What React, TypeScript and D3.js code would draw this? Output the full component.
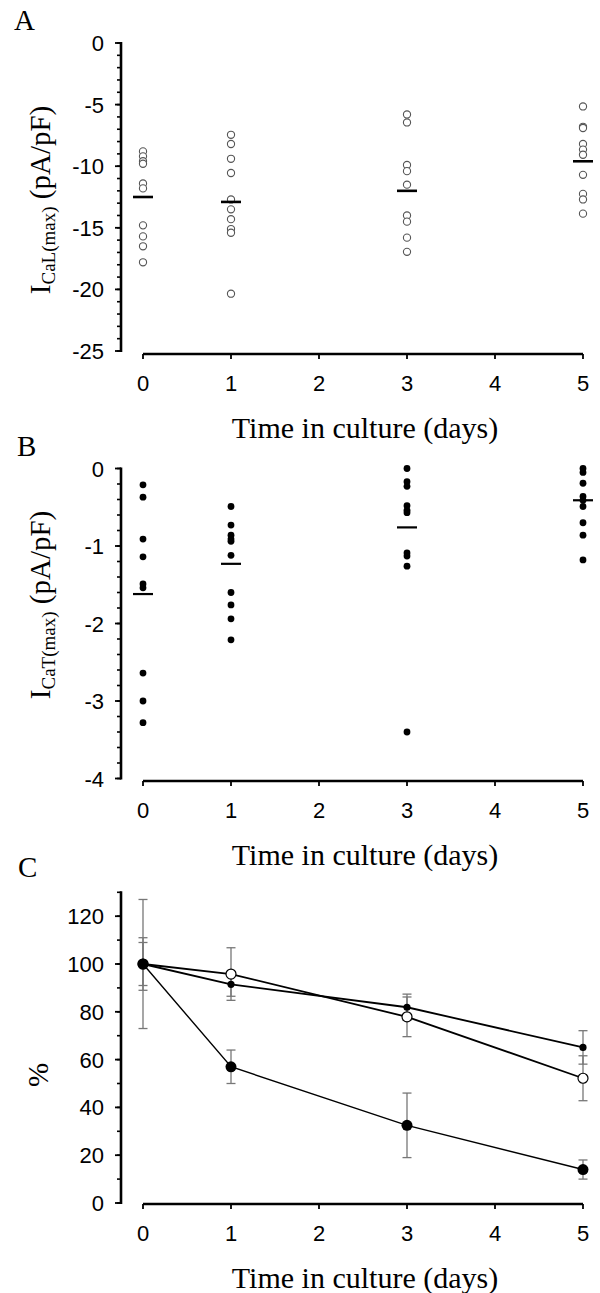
import React from 'react';
import * as d3 from 'd3';

// ---------- data ----------
const days = [0, 1, 3, 5];
const xTicks = [0, 1, 2, 3, 4, 5];

// Panel A: I_CaL(max) (pA/pF), individual cells per day
const icalDay0 = [-8.8, -9.2, -9.6, -9.8, -11.4, -11.8, -14.8, -15.7, -16.5, -17.8];
const icalDay1 = [-7.45, -8.2, -9.4, -10.55, -12.7, -13.5, -14.3, -15.1, -15.4, -20.35];
const icalDay3 = [-5.8, -6.45, -9.9, -10.4, -11.5, -14.0, -14.5, -15.8, -16.95];
const icalDay5 = [-5.15, -6.8, -6.9, -8.2, -8.65, -9.07, -10.7, -12.25, -12.7, -13.85];
const icalMeans = [-12.5, -12.9, -12.0, -9.6];
const yTicksA = [0, -5, -10, -15, -20, -25];

// Panel B: I_CaT(max) (pA/pF)
const icatDay0 = [-0.21, -0.37, -0.91, -1.14, -1.49, -1.54, -2.64, -3.0, -3.28];
const icatDay1 = [-0.49, -0.73, -0.86, -0.91, -0.94, -1.12, -1.6, -1.76, -1.94, -2.21];
const icatDay3 = [0, -0.17, -0.23, -0.48, -0.54, -0.57, -1.09, -1.13, -1.26, -3.4];
const icatDay5 = [0, -0.05, -0.19, -0.36, -0.41, -0.49, -0.7, -0.86, -1.18];
const icatMeans = [-1.62, -1.23, -0.76, -0.41];
const yTicksB = [0, -1, -2, -3, -4];

// Panel C: % of day 0
const pctSmall = [100, 91.5, 81.9, 65.1];
const errSmall = [9, 5, 5.5, 7];
const pctOpen = [100, 95.8, 77.9, 52.2];
const errOpen = [11, 11, 8.3, 9.4];
const pctBig = [100, 57, 32.5, 14];
const errBig = [27, 7, 13.5, 4];
const yTicksC = [0, 20, 40, 60, 80, 100, 120];

// ---------- layout ----------
const SANS = "'Liberation Sans', Arial, sans-serif";
const SERIF = "'Liberation Serif', 'Times New Roman', serif";
const AXIS_X = 121;
const TICK_FS = 22;

const x = d3.scaleLinear().domain([0, 5]).range([143, 583]);
const yA = d3.scaleLinear().domain([-25, 0]).range([351, 43]);
const yB = d3.scaleLinear().domain([-4, 0]).range([778.5, 468.5]);
const yC = d3.scaleLinear().domain([0, 130]).range([1203, 892.3]);

function YAxis({ scale, majors, minorStep }: any) {
  const [d0, d1] = scale.domain();
  const minors = d3.range(d0, d1 + 1e-9, minorStep);
  return (
    <g>
      <line x1={AXIS_X} x2={AXIS_X} y1={scale(d0) + 1} y2={scale(d1) - 1} stroke="#000" strokeWidth={2.6} />
      {minors.map((v: number, i: number) => (
        <line key={'m' + i} x1={AXIS_X - 4} x2={AXIS_X} y1={scale(v)} y2={scale(v)} stroke="#000" strokeWidth={1.6} />
      ))}
      {majors.map((v: number) => (
        <g key={v}>
          <line x1={AXIS_X - 6} x2={AXIS_X} y1={scale(v)} y2={scale(v)} stroke="#000" strokeWidth={1.8} />
          <text x={AXIS_X - 17} y={scale(v) + 8} textAnchor="end" fontFamily={SANS} fontSize={TICK_FS}>{v}</text>
        </g>
      ))}
    </g>
  );
}

function XAxis({ y }: any) {
  return (
    <g>
      <line x1={x(0)} x2={x(5)} y1={y} y2={y} stroke="#000" strokeWidth={2.6} />
      {xTicks.map((t) => (
        <g key={t}>
          <line x1={x(t)} x2={x(t)} y1={y} y2={y + 5} stroke="#000" strokeWidth={1.8} />
          <text x={x(t)} y={y + 37} textAnchor="middle" fontFamily={SANS} fontSize={TICK_FS}>{t}</text>
        </g>
      ))}
      <text x={365} y={y + 84} textAnchor="middle" fontFamily={SERIF} fontSize={30}>Time in culture (days)</text>
    </g>
  );
}

function YLabel({ cx, cy, sub }: any) {
  return (
    <text transform={`translate(${cx},${cy}) rotate(-90)`} textAnchor="middle" fontFamily={SERIF} fontSize={29}>
      I<tspan fontSize={19} dy={5}>{sub}</tspan><tspan dy={-5}> (pA/pF)</tspan>
    </text>
  );
}

export default function App() {
  const icalGroups = [icalDay0, icalDay1, icalDay3, icalDay5];
  const icatGroups = [icatDay0, icatDay1, icatDay3, icatDay5];
  const lineC = d3.line<number>().x((_, i) => x(days[i])).y((v) => yC(v));
  const series = [
    { vals: pctOpen, errs: errOpen, kind: 'open' },
    { vals: pctSmall, errs: errSmall, kind: 'small' },
    { vals: pctBig, errs: errBig, kind: 'big' },
  ];
  return (
    <svg width={600} height={1293} style={{ position: 'absolute', left: 0, top: 0, background: '#fff' }}>
      <rect width={600} height={1293} fill="#fff" />
      {/* Panel A */}
      <text x={14} y={30} fontFamily={SERIF} fontSize={29}>A</text>
      <YAxis scale={yA} majors={yTicksA} minorStep={1} />
      <XAxis y={354} />
      <YLabel cx={50} cy={200} sub="CaL(max)" />
      {icalGroups.map((g, i) => (
        <g key={i}>
          {g.map((v, j) => (
            <circle key={j} cx={x(days[i])} cy={yA(v)} r={3.6} fill="#fff" stroke="#555" strokeWidth={1.1} />
          ))}
          <line x1={x(days[i]) - 10} x2={x(days[i]) + 10} y1={yA(icalMeans[i])} y2={yA(icalMeans[i])} stroke="#000" strokeWidth={2.6} />
        </g>
      ))}

      {/* Panel B */}
      <text x={17} y={456} fontFamily={SERIF} fontSize={29}>B</text>
      <YAxis scale={yB} majors={yTicksB} minorStep={0.2} />
      <XAxis y={781} />
      <YLabel cx={50} cy={605} sub="CaT(max)" />
      {icatGroups.map((g, i) => (
        <g key={i}>
          {g.map((v, j) => (
            <circle key={j} cx={x(days[i])} cy={yB(v)} r={3.4} fill="#000" />
          ))}
          <line x1={x(days[i]) - 10} x2={x(days[i]) + 10} y1={yB(icatMeans[i])} y2={yB(icatMeans[i])} stroke="#000" strokeWidth={2.2} />
        </g>
      ))}

      {/* Panel C */}
      <text x={18} y={877} fontFamily={SERIF} fontSize={29}>C</text>
      <YAxis scale={yC} majors={yTicksC} minorStep={10} />
      <XAxis y={1204} />
      <text transform={`translate(48,1075) rotate(-90)`} textAnchor="middle" fontFamily={SERIF} fontSize={29}>%</text>
      {series.map((s, k) => (
        <g key={'e' + k}>
          {s.vals.map((v, i) => (
            <g key={i} stroke="#777" strokeWidth={1.3}>
              <line x1={x(days[i])} x2={x(days[i])} y1={yC(v - s.errs[i])} y2={yC(v + s.errs[i])} />
              <line x1={x(days[i]) - 4.5} x2={x(days[i]) + 4.5} y1={yC(v - s.errs[i])} y2={yC(v - s.errs[i])} />
              <line x1={x(days[i]) - 4.5} x2={x(days[i]) + 4.5} y1={yC(v + s.errs[i])} y2={yC(v + s.errs[i])} />
            </g>
          ))}
        </g>
      ))}
      {series.map((s, k) => (
        <path key={'l' + k} d={lineC(s.vals) || ''} fill="none" stroke="#000" strokeWidth={s.kind === 'big' ? 1.4 : 1.8} />
      ))}
      {series.map((s, k) => (
        <g key={'p' + k}>
          {s.vals.map((v, i) => (
            s.kind === 'big' ? <circle key={i} cx={x(days[i])} cy={yC(v)} r={5.5} fill="#000" /> :
            s.kind === 'open' ? <circle key={i} cx={x(days[i])} cy={yC(v)} r={5} fill="#fff" stroke="#000" strokeWidth={1.2} /> :
            <circle key={i} cx={x(days[i])} cy={yC(v)} r={3.6} fill="#000" />
          ))}
        </g>
      ))}
    </svg>
  );
}
